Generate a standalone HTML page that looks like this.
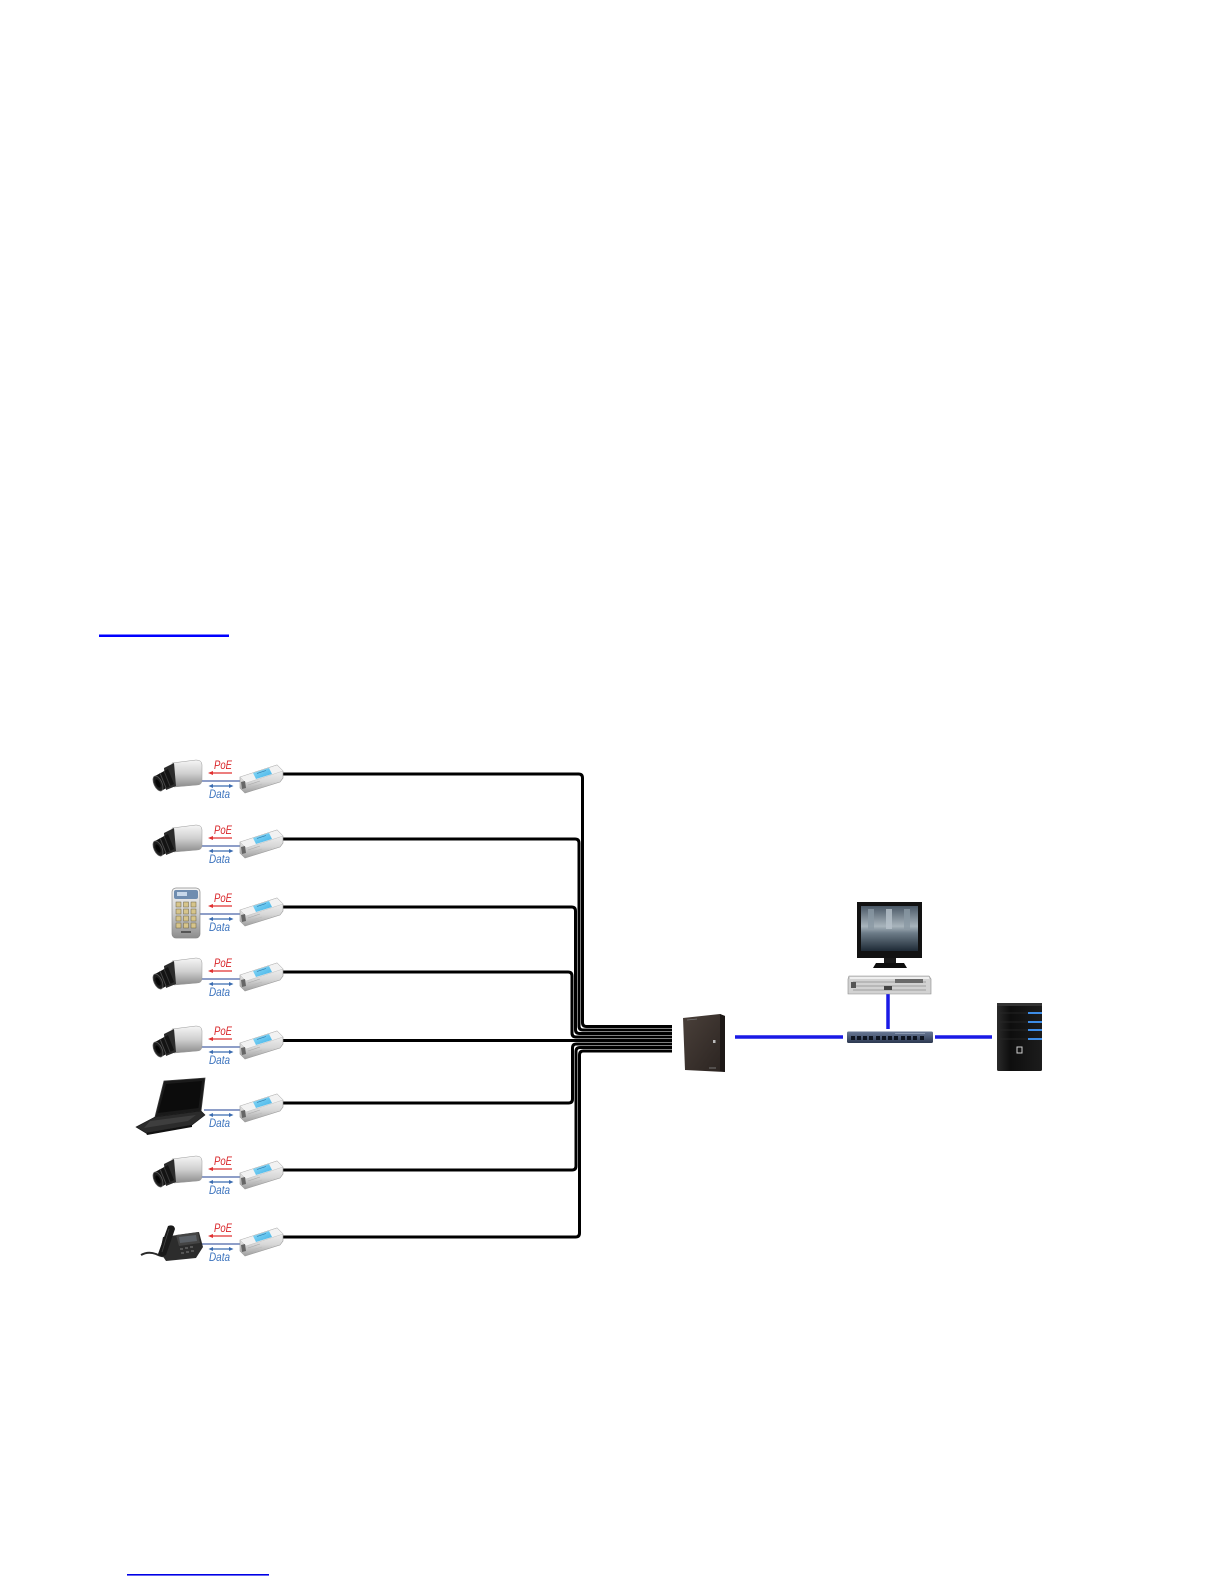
<!DOCTYPE html>
<html>
<head>
<meta charset="utf-8">
<style>
  html,body{margin:0;padding:0;background:#fff;}
  body{width:1225px;height:1585px;position:relative;overflow:hidden;}
  svg{position:absolute;left:0;top:0;}
  .poe{font-family:"Liberation Sans",Arial,sans-serif;font-style:italic;font-size:11.5px;fill:#d9262a;}
  .data{font-family:"Liberation Sans",Arial,sans-serif;font-style:italic;font-size:11.5px;fill:#3a72bd;}
</style>
</head>
<body>
<svg width="1225" height="1585" viewBox="0 0 1225 1585" xmlns="http://www.w3.org/2000/svg">
  <defs>
    <linearGradient id="silver" x1="0" y1="0" x2="0" y2="1">
      <stop offset="0" stop-color="#f6f6f6"/>
      <stop offset="0.5" stop-color="#cfcfcf"/>
      <stop offset="1" stop-color="#8c8c8c"/>
    </linearGradient>
    <linearGradient id="hubg" x1="0" y1="0" x2="0" y2="1">
      <stop offset="0" stop-color="#fafafa"/>
      <stop offset="0.6" stop-color="#d6d6d6"/>
      <stop offset="1" stop-color="#9e9e9e"/>
    </linearGradient>
    <linearGradient id="blueLbl" x1="0" y1="0" x2="1" y2="1">
      <stop offset="0" stop-color="#8fdcf8"/>
      <stop offset="1" stop-color="#3fb0e6"/>
    </linearGradient>
    <linearGradient id="screen" x1="0" y1="0" x2="0" y2="1">
      <stop offset="0" stop-color="#4a5866"/>
      <stop offset="0.45" stop-color="#a8b4bc"/>
      <stop offset="0.6" stop-color="#6d7c88"/>
      <stop offset="1" stop-color="#1e2a36"/>
    </linearGradient>
    <linearGradient id="tower" x1="0" y1="0" x2="1" y2="0">
      <stop offset="0" stop-color="#2a2a2a"/>
      <stop offset="0.3" stop-color="#0e0e0e"/>
      <stop offset="1" stop-color="#1c1c1c"/>
    </linearGradient>
    <linearGradient id="box" x1="0" y1="0" x2="1" y2="1">
      <stop offset="0" stop-color="#4a403a"/>
      <stop offset="1" stop-color="#2a2320"/>
    </linearGradient>
    <linearGradient id="sw" x1="0" y1="0" x2="0" y2="1">
      <stop offset="0" stop-color="#6a7a96"/>
      <stop offset="1" stop-color="#2c3850"/>
    </linearGradient>

    <!-- box camera, local 50x32 -->
    <g id="cam">
      <path d="M20,3 L44,0 Q50,0 50,5 L50,20 Q50,25 45,25 L22,27 Z" fill="url(#silver)" stroke="#9a9a9a" stroke-width="0.5"/>
      <path d="M12,8 L22,3 L24,26 L14,30 Z" fill="#2b2b2b"/>
      <path d="M3,16 L16,9 L22,24 L9,31 Z" fill="#141414"/>
      <path d="M8,13 L14,28" stroke="#4a4a4a" stroke-width="1"/>
      <path d="M12,11 L18,26" stroke="#3a3a3a" stroke-width="1"/>
      <ellipse cx="6" cy="23.5" rx="4" ry="8" transform="rotate(-25 6 23.5)" fill="#1d1d1d" stroke="#5a5a5a" stroke-width="0.8"/>
      <ellipse cx="6" cy="23.5" rx="2" ry="4.5" transform="rotate(-25 6 23.5)" fill="#050505"/>
    </g>

    <!-- PoE injector/splitter, local 43x30 -->
    <g id="hub">
      <path d="M0,14 L37,2 L43,8 L43,15 L40,19 L5,30 L0,25 Z" fill="url(#hubg)" stroke="#9a9a9a" stroke-width="0.6"/>
      <path d="M0,14 L37,2 L43,8 L6,20 Z" fill="#f2f2f2" stroke="#b5b5b5" stroke-width="0.4"/>
      <path d="M13,10 L29,5 L32,11 L16,16 Z" fill="url(#blueLbl)"/>
      <path d="M17,10.5 L26,7.5" stroke="#2a6ea0" stroke-width="0.6"/>
      <path d="M1,19 L5,18 L6,25 L2,26 Z" fill="#666"/>
      <path d="M8,22 L20,18" stroke="#aaa" stroke-width="0.6"/>
      <path d="M8,25 L22,21" stroke="#bbb" stroke-width="0.6"/>
    </g>
  </defs>

  <!-- top link underline -->
  <rect x="99" y="634.5" width="130" height="2.5" fill="#0000ff"/>
  <!-- bottom link underline -->
  <rect x="127" y="1574" width="142" height="1.6" fill="#0000e6"/>

  <!-- cables -->
  <g fill="none" stroke="#000" stroke-width="3">
    <path d="M283,774 H578.5 Q582.5,774 582.5,778 V1022.5 Q582.5,1026.5 586.5,1026.5 H672"/>
    <path d="M283,839 H575 Q579,839 579,843 V1026 Q579,1030 583,1030 H672"/>
    <path d="M283,907 H571.5 Q575.5,907 575.5,911 V1029.5 Q575.5,1033.5 579.5,1033.5 H672"/>
    <path d="M283,972 H568 Q572,972 572,976 V1033 Q572,1037 576,1037 H672"/>
    <path d="M283,1040.5 H672"/>
    <path d="M283,1103 H568.5 Q572.5,1103 572.5,1099 V1048 Q572.5,1044 576.5,1044 H672"/>
    <path d="M283,1170 H572 Q576,1170 576,1166 V1051.5 Q576,1047.5 580,1047.5 H672"/>
    <path d="M283,1237 H575.5 Q579.5,1237 579.5,1233 V1055 Q579.5,1051 583.5,1051 H672"/>
  </g>

  <!-- rows: connector lines, arrows, labels -->
  <g id="rows">
    <!-- row 1 r=774 -->
    <line x1="200" y1="781" x2="241" y2="781" stroke="#4a64a8" stroke-width="1.3"/>
    <line x1="210" y1="773" x2="232" y2="773" stroke="#e03030" stroke-width="1.2"/>
    <path d="M208,773 L213,771 L213,775 Z" fill="#e03030"/>
    <line x1="211" y1="786" x2="231" y2="786" stroke="#3b6cb0" stroke-width="1.2"/>
    <path d="M208.5,786 L213,784 L213,788 Z M233.5,786 L229,784 L229,788 Z" fill="#3b6cb0"/>
    <text class="poe" x="214" y="769" textLength="18" lengthAdjust="spacingAndGlyphs">PoE</text>
    <text class="data" x="209" y="798" textLength="21" lengthAdjust="spacingAndGlyphs">Data</text>

    <!-- row 2 r=839 -->
    <line x1="200" y1="846" x2="241" y2="846" stroke="#4a64a8" stroke-width="1.3"/>
    <line x1="210" y1="838" x2="232" y2="838" stroke="#e03030" stroke-width="1.2"/>
    <path d="M208,838 L213,836 L213,840 Z" fill="#e03030"/>
    <line x1="211" y1="851" x2="231" y2="851" stroke="#3b6cb0" stroke-width="1.2"/>
    <path d="M208.5,851 L213,849 L213,853 Z M233.5,851 L229,849 L229,853 Z" fill="#3b6cb0"/>
    <text class="poe" x="214" y="834" textLength="18" lengthAdjust="spacingAndGlyphs">PoE</text>
    <text class="data" x="209" y="863" textLength="21" lengthAdjust="spacingAndGlyphs">Data</text>

    <!-- row 3 r=907 -->
    <line x1="200" y1="914" x2="241" y2="914" stroke="#4a64a8" stroke-width="1.3"/>
    <line x1="210" y1="906" x2="232" y2="906" stroke="#e03030" stroke-width="1.2"/>
    <path d="M208,906 L213,904 L213,908 Z" fill="#e03030"/>
    <line x1="211" y1="919" x2="231" y2="919" stroke="#3b6cb0" stroke-width="1.2"/>
    <path d="M208.5,919 L213,917 L213,921 Z M233.5,919 L229,917 L229,921 Z" fill="#3b6cb0"/>
    <text class="poe" x="214" y="902" textLength="18" lengthAdjust="spacingAndGlyphs">PoE</text>
    <text class="data" x="209" y="931" textLength="21" lengthAdjust="spacingAndGlyphs">Data</text>

    <!-- row 4 r=972 -->
    <line x1="200" y1="979" x2="241" y2="979" stroke="#4a64a8" stroke-width="1.3"/>
    <line x1="210" y1="971" x2="232" y2="971" stroke="#e03030" stroke-width="1.2"/>
    <path d="M208,971 L213,969 L213,973 Z" fill="#e03030"/>
    <line x1="211" y1="984" x2="231" y2="984" stroke="#3b6cb0" stroke-width="1.2"/>
    <path d="M208.5,984 L213,982 L213,986 Z M233.5,984 L229,982 L229,986 Z" fill="#3b6cb0"/>
    <text class="poe" x="214" y="967" textLength="18" lengthAdjust="spacingAndGlyphs">PoE</text>
    <text class="data" x="209" y="996" textLength="21" lengthAdjust="spacingAndGlyphs">Data</text>

    <!-- row 5 r=1040 -->
    <line x1="200" y1="1047" x2="241" y2="1047" stroke="#4a64a8" stroke-width="1.3"/>
    <line x1="210" y1="1039" x2="232" y2="1039" stroke="#e03030" stroke-width="1.2"/>
    <path d="M208,1039 L213,1037 L213,1041 Z" fill="#e03030"/>
    <line x1="211" y1="1052" x2="231" y2="1052" stroke="#3b6cb0" stroke-width="1.2"/>
    <path d="M208.5,1052 L213,1050 L213,1054 Z M233.5,1052 L229,1050 L229,1054 Z" fill="#3b6cb0"/>
    <text class="poe" x="214" y="1035" textLength="18" lengthAdjust="spacingAndGlyphs">PoE</text>
    <text class="data" x="209" y="1064" textLength="21" lengthAdjust="spacingAndGlyphs">Data</text>

    <!-- row 6 r=1103 (laptop, no PoE) -->
    <line x1="204" y1="1110" x2="241" y2="1110" stroke="#4a64a8" stroke-width="1.3"/>
    <line x1="211" y1="1115" x2="231" y2="1115" stroke="#3b6cb0" stroke-width="1.2"/>
    <path d="M208.5,1115 L213,1113 L213,1117 Z M233.5,1115 L229,1113 L229,1117 Z" fill="#3b6cb0"/>
    <text class="data" x="209" y="1127" textLength="21" lengthAdjust="spacingAndGlyphs">Data</text>

    <!-- row 7 r=1170 -->
    <line x1="200" y1="1177" x2="241" y2="1177" stroke="#4a64a8" stroke-width="1.3"/>
    <line x1="210" y1="1169" x2="232" y2="1169" stroke="#e03030" stroke-width="1.2"/>
    <path d="M208,1169 L213,1167 L213,1171 Z" fill="#e03030"/>
    <line x1="211" y1="1182" x2="231" y2="1182" stroke="#3b6cb0" stroke-width="1.2"/>
    <path d="M208.5,1182 L213,1180 L213,1184 Z M233.5,1182 L229,1180 L229,1184 Z" fill="#3b6cb0"/>
    <text class="poe" x="214" y="1165" textLength="18" lengthAdjust="spacingAndGlyphs">PoE</text>
    <text class="data" x="209" y="1194" textLength="21" lengthAdjust="spacingAndGlyphs">Data</text>

    <!-- row 8 r=1237 -->
    <line x1="200" y1="1244" x2="241" y2="1244" stroke="#4a64a8" stroke-width="1.3"/>
    <line x1="210" y1="1236" x2="232" y2="1236" stroke="#e03030" stroke-width="1.2"/>
    <path d="M208,1236 L213,1234 L213,1238 Z" fill="#e03030"/>
    <line x1="211" y1="1249" x2="231" y2="1249" stroke="#3b6cb0" stroke-width="1.2"/>
    <path d="M208.5,1249 L213,1247 L213,1251 Z M233.5,1249 L229,1247 L229,1251 Z" fill="#3b6cb0"/>
    <text class="poe" x="214" y="1232" textLength="18" lengthAdjust="spacingAndGlyphs">PoE</text>
    <text class="data" x="209" y="1261" textLength="21" lengthAdjust="spacingAndGlyphs">Data</text>
  </g>

  <!-- hubs -->
  <use href="#hub" x="240" y="763"/>
  <use href="#hub" x="240" y="828"/>
  <use href="#hub" x="240" y="896"/>
  <use href="#hub" x="240" y="961"/>
  <use href="#hub" x="240" y="1029"/>
  <use href="#hub" x="240" y="1092"/>
  <use href="#hub" x="240" y="1159"/>
  <use href="#hub" x="240" y="1226"/>

  <!-- cameras -->
  <use href="#cam" x="152" y="760"/>
  <use href="#cam" x="152" y="825"/>
  <use href="#cam" x="152" y="958"/>
  <use href="#cam" x="152" y="1026"/>
  <use href="#cam" x="152" y="1156"/>

  <!-- keypad (row 3) -->
  <g>
    <rect x="172" y="888" width="28" height="50" rx="4" fill="url(#silver)" stroke="#8a8a8a" stroke-width="0.7"/>
    <rect x="174" y="890" width="24" height="9" rx="2" fill="#6f8db0"/>
    <rect x="177" y="892" width="10" height="4" fill="#c8d8ea"/>
    <g fill="#d6c48a" stroke="#6a6040" stroke-width="0.5">
      <rect x="176" y="902" width="5" height="5"/><rect x="183.5" y="902" width="5" height="5"/><rect x="191" y="902" width="5" height="5"/>
      <rect x="176" y="909" width="5" height="5"/><rect x="183.5" y="909" width="5" height="5"/><rect x="191" y="909" width="5" height="5"/>
      <rect x="176" y="916" width="5" height="5"/><rect x="183.5" y="916" width="5" height="5"/><rect x="191" y="916" width="5" height="5"/>
      <rect x="176" y="923" width="5" height="5"/><rect x="183.5" y="923" width="5" height="5"/><rect x="191" y="923" width="5" height="5"/>
    </g>
    <rect x="181" y="931" width="10" height="2" fill="#555"/>
  </g>

  <!-- laptop (row 6) -->
  <g>
    <path d="M164,1081 L205,1078 L201,1111 L155,1117 Z" fill="#1a1a1a" stroke="#3a3a3a" stroke-width="0.8"/>
    <path d="M166,1084 L202,1081 L198.5,1108 L158,1113 Z" fill="#0c0c0c"/>
    <path d="M155,1117 L201,1111 L205,1115 L192,1125 L146,1133 L136,1127 Z" fill="#2b2b2b" stroke="#151515" stroke-width="0.6"/>
    <path d="M150,1121 L196,1115 L188,1121 L144,1128 Z" fill="#3e3e3e"/>
    <path d="M146,1133 L192,1125 L192,1127 L147,1135 Z" fill="#111"/>
  </g>

  <!-- phone (row 8) -->
  <g>
    <!-- cord -->
    <path d="M141,1255 Q148,1251 156,1254 Q162,1257 166,1256" stroke="#2a2a2a" stroke-width="2" fill="none"/>
    <!-- body -->
    <path d="M163,1237 L199,1232 L203,1247 L196,1258 L166,1261 L160,1252 Z" fill="#2c2c2c"/>
    <path d="M176,1235 L198,1232 L200,1243 L179,1246 Z" fill="#444"/>
    <path d="M179,1237 L196,1235 L197,1241 L180,1243 Z" fill="#5b6066"/>
    <g fill="#555">
      <rect x="180" y="1248" width="3" height="2"/><rect x="185" y="1247" width="3" height="2"/><rect x="190" y="1246" width="3" height="2"/>
      <rect x="181" y="1252" width="3" height="2"/><rect x="186" y="1251" width="3" height="2"/><rect x="191" y="1250" width="3" height="2"/>
    </g>
    <!-- handset -->
    <path d="M168,1226 Q174,1224 175,1229 L166,1255 Q160,1258 158,1254 Z" fill="#1a1a1a"/>
    <path d="M169,1229 L162,1252" stroke="#444" stroke-width="0.8"/>
  </g>

  <!-- wall box -->
  <g>
    <path d="M683,1018 L720,1014 L725,1016 L725,1072 L685,1070 Z" fill="url(#box)"/>
    <path d="M720,1014 L725,1016 L725,1072 L720,1071 Z" fill="#1d1816"/>
    <rect x="713" y="1040" width="2.5" height="3" fill="#bbb"/>
    <line x1="687" y1="1020" x2="697" y2="1019" stroke="#777" stroke-width="0.8"/>
    <line x1="709" y1="1068" x2="716" y2="1068" stroke="#888" stroke-width="0.8"/>
  </g>

  <!-- blue network lines -->
  <g stroke="#1a1ae6" stroke-width="3.5" fill="none">
    <line x1="735" y1="1037" x2="843" y2="1037"/>
    <line x1="935" y1="1037" x2="992" y2="1037"/>
    <line x1="888" y1="989" x2="888" y2="1029"/>
  </g>

  <!-- switch -->
  <g>
    <rect x="847" y="1031.5" width="86" height="11.5" rx="1.5" fill="url(#sw)"/>
    <g fill="#0e1420">
      <rect x="851" y="1036" width="4" height="4"/><rect x="857" y="1036" width="4" height="4"/>
      <rect x="863" y="1036" width="4" height="4"/><rect x="869" y="1036" width="4" height="4"/>
      <rect x="876" y="1036" width="4" height="4"/><rect x="882" y="1036" width="4" height="4"/>
      <rect x="888" y="1036" width="4" height="4"/><rect x="894" y="1036" width="4" height="4"/>
      <rect x="901" y="1036" width="4" height="4"/><rect x="907" y="1036" width="4" height="4"/>
      <rect x="913" y="1036" width="4" height="4"/><rect x="920" y="1036" width="4" height="4"/>
    </g>
    <line x1="895" y1="1033.5" x2="925" y2="1033.5" stroke="#9aa6bc" stroke-width="0.8"/>
  </g>

  <!-- monitor -->
  <g>
    <rect x="857" y="902" width="65" height="56" fill="#121212"/>
    <rect x="861" y="906" width="57" height="45" fill="url(#screen)"/>
    <rect x="868" y="909" width="6" height="20" fill="#8a98a4" opacity="0.8"/>
    <rect x="886" y="909" width="6" height="20" fill="#b6c2ca" opacity="0.8"/>
    <rect x="904" y="909" width="6" height="20" fill="#8a98a4" opacity="0.8"/>
    <rect x="884" y="958" width="12" height="6" fill="#1a1a1a"/>
    <path d="M873,968 L876,963 L904,963 L907,968 Z" fill="#0e0e0e"/>
  </g>

  <!-- rack server -->
  <g>
    <path d="M849,976 L929,976 L931,979 L931,994 L848,994 L848,979 Z" fill="#d2d2d2" stroke="#8a8a8a" stroke-width="0.6"/>
    <rect x="850" y="977" width="79" height="2" fill="#efefef"/>
    <g stroke="#8c8c8c" stroke-width="0.8">
      <line x1="853" y1="982" x2="926" y2="982"/>
      <line x1="853" y1="986" x2="926" y2="986"/>
      <line x1="853" y1="990" x2="926" y2="990"/>
    </g>
    <rect x="851" y="982" width="5" height="6" fill="#555"/>
    <rect x="895" y="979" width="28" height="4" fill="#6a6a6a"/>
    <rect x="884" y="986" width="8" height="4" fill="#444"/>
  </g>

  <!-- tower server -->
  <g>
    <rect x="997" y="1003" width="45" height="68" rx="1.5" fill="url(#tower)"/>
    <path d="M997,1003 L1042,1003 L1042,1006 L997,1006 Z" fill="#333"/>
    <g stroke="#3d8ce6" stroke-width="2">
      <line x1="1028" y1="1013" x2="1042" y2="1013"/>
      <line x1="1028" y1="1022" x2="1042" y2="1022"/>
      <line x1="1028" y1="1030" x2="1042" y2="1030"/>
      <line x1="1028" y1="1039" x2="1042" y2="1039"/>
    </g>
    <g stroke="#2a2a2a" stroke-width="0.8">
      <line x1="1000" y1="1013" x2="1028" y2="1013"/>
      <line x1="1000" y1="1022" x2="1028" y2="1022"/>
      <line x1="1000" y1="1030" x2="1028" y2="1030"/>
      <line x1="1000" y1="1039" x2="1028" y2="1039"/>
    </g>
    <rect x="1017" y="1047" width="5" height="6" fill="none" stroke="#cfcfcf" stroke-width="1"/>
  </g>
</svg>
</body>
</html>
